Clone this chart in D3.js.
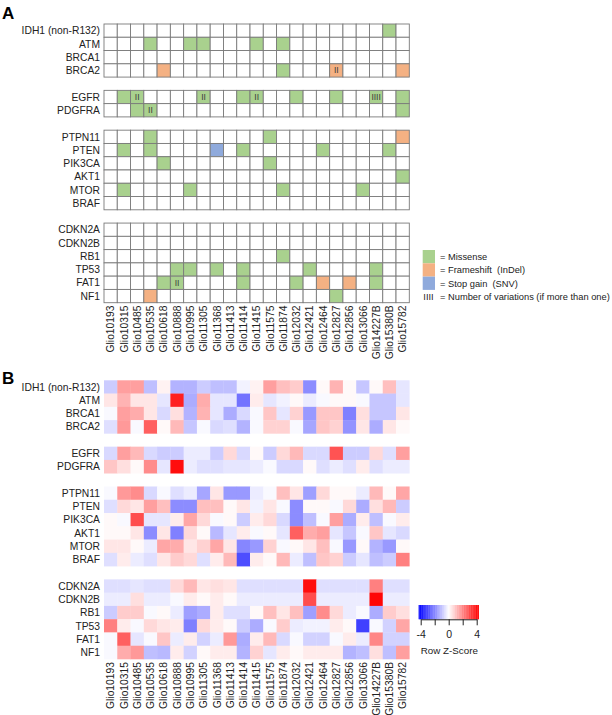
<!DOCTYPE html>
<html><head><meta charset="utf-8">
<script src="https://cdnjs.cloudflare.com/ajax/libs/d3/7.8.5/d3.min.js"></script>
<style>body{margin:0;background:#fff}svg{display:block;font-family:"Liberation Sans",Arial,sans-serif}</style>
</head><body>
<script>
// ---------- data ----------
const samples = ["Glio10193","Glio10315","Glio10485","Glio10535","Glio10618","Glio10888","Glio10995","Glio11305","Glio11368","Glio11413","Glio11414","Glio11415","Glio11575","Glio11874","Glio12032","Glio12421","Glio12464","Glio12827","Glio12856","Glio13066","Glio14227B","Glio15380B","Glio15782"];
const groupDNA = ["IDH1 (non-R132)","ATM","BRCA1","BRCA2"];
const groupRTK = ["EGFR","PDGFRA"];
const groupPI3K = ["PTPN11","PTEN","PIK3CA","AKT1","MTOR","BRAF"];
const groupCC = ["CDKN2A","CDKN2B","RB1","TP53","FAT1","NF1"];
const mutationTypes = ["Missense","Frameshift","Stop gain"];
const legendLabels = ["= Missense","= Frameshift  (InDel)","= Stop gain  (SNV)","= Number of variations (if more than one)"];
// [gene, sample, type, number of variations]
const mutations = [
 ["IDH1 (non-R132)","Glio15380B","Missense",1],
 ["ATM","Glio10535","Missense",1],["ATM","Glio10995","Missense",1],["ATM","Glio11305","Missense",1],["ATM","Glio11415","Missense",1],["ATM","Glio11874","Missense",1],
 ["BRCA2","Glio10618","Frameshift",1],["BRCA2","Glio11874","Missense",1],["BRCA2","Glio12827","Frameshift",2],["BRCA2","Glio15782","Frameshift",1],
 ["EGFR","Glio10315","Missense",1],["EGFR","Glio10485","Missense",2],["EGFR","Glio11305","Missense",2],["EGFR","Glio11414","Missense",1],["EGFR","Glio11415","Missense",2],["EGFR","Glio12032","Missense",1],["EGFR","Glio12827","Missense",1],["EGFR","Glio14227B","Missense",4],["EGFR","Glio15782","Missense",1],
 ["PDGFRA","Glio10485","Missense",1],["PDGFRA","Glio10535","Missense",2],["PDGFRA","Glio15782","Missense",1],
 ["PTPN11","Glio10535","Missense",1],["PTPN11","Glio11575","Missense",1],["PTPN11","Glio15782","Frameshift",1],
 ["PTEN","Glio10315","Missense",1],["PTEN","Glio10535","Missense",1],["PTEN","Glio11368","Stop gain",1],["PTEN","Glio11414","Missense",1],["PTEN","Glio12464","Missense",1],["PTEN","Glio15380B","Missense",1],
 ["PIK3CA","Glio10618","Missense",1],["PIK3CA","Glio11575","Missense",1],
 ["AKT1","Glio15782","Missense",1],
 ["MTOR","Glio10315","Missense",1],["MTOR","Glio10995","Missense",1],["MTOR","Glio11874","Missense",1],["MTOR","Glio13066","Missense",1],
 ["RB1","Glio11874","Missense",1],
 ["TP53","Glio10888","Missense",1],["TP53","Glio10995","Missense",1],["TP53","Glio11368","Missense",1],["TP53","Glio11414","Missense",1],["TP53","Glio12421","Missense",1],["TP53","Glio14227B","Missense",1],
 ["FAT1","Glio10618","Missense",1],["FAT1","Glio10888","Missense",2],["FAT1","Glio11414","Missense",1],["FAT1","Glio12032","Missense",1],["FAT1","Glio12464","Frameshift",1],["FAT1","Glio12856","Frameshift",1],["FAT1","Glio14227B","Missense",1],
 ["NF1","Glio10535","Frameshift",1],["NF1","Glio12827","Missense",1]
];
// Row Z-scores (order = samples)
const zIDH1   = [-0.8,1.5,1.5,-1.0,0.2,-1.2,-1.2,-0.8,-1.0,-1.0,-0.2,0.2,1.5,1.0,0.8,-1.8,0.1,1.2,0.1,-0.9,0.1,1.0,-0.4];
const zATM    = [0.4,1.2,0.4,0.4,-0.4,3.5,-1.3,1.3,-0.4,-0.4,-2.2,0.3,-0.4,-0.2,0.1,-0.3,-0.1,0.1,0.1,-0.1,-0.9,-0.9,-0.4];
const zBRCA1  = [-0.1,1.5,1.3,0.4,-0.6,0.5,-1.2,1.2,-0.4,-1.3,-0.6,-0.1,0.9,-0.4,0.7,-1.6,0.9,0.9,-2.0,0.5,-0.9,-0.9,0.4];
const zBRCA2  = [-0.5,1.6,-0.1,2.5,0.1,1.1,-0.9,-0.1,-0.6,-0.5,-1.2,-0.1,0.7,0.7,-0.1,-1.4,0.9,0.7,-1.7,0.4,-1.3,0.4,0.1];
const zEGFR   = [-0.6,1.5,1.1,-0.6,-0.8,-0.8,-0.3,-0.3,-0.8,0.6,-0.6,0.1,-0.8,0.6,1.1,-0.6,-0.6,2.7,-0.8,-0.8,0.6,-0.5,1.5];
const zPDGFRA = [0.9,0.5,0.1,1.8,-0.4,3.8,-0.3,-0.5,-0.5,-0.4,-0.4,-0.3,-0.1,-0.6,-0.6,0.1,-0.5,-0.3,-0.5,0.3,-0.5,-0.3,-0.3];
const zPTPN11 = [-0.1,1.6,1.8,-0.6,-0.1,-0.5,-0.3,-1.4,0.4,-1.6,-1.6,-0.3,-0.1,1.0,0.4,-1.5,0.6,0.1,0.1,-0.3,1.1,0.1,1.4];
const zPTEN   = [-0.5,0.6,0.4,1.5,1.0,-1.8,-1.8,1.0,1.0,0.1,0.4,-0.2,0.4,-0.1,-1.8,0.1,0.1,-0.1,0.6,-1.3,0.5,1.1,-0.8];
const zPIK3CA = [0.1,-0.1,2.8,-0.4,-0.4,0.3,1.4,0.6,-0.1,0.1,-0.8,0.3,0.6,-0.6,-1.8,-1.0,-0.1,1.5,-1.3,0.3,-1.0,-0.1,0.3];
const zAKT1   = [0.1,0.1,0.4,-1.8,0.4,-2.0,0.6,0.1,-1.1,-0.4,0.3,-0.1,0.1,-0.4,2.5,1.3,1.5,-0.4,-0.9,-0.1,0.9,-0.4,-0.6];
const zMTOR   = [0.4,0.4,0.1,-0.3,1.4,1.3,0.4,0.7,1.4,0.4,-1.9,-1.6,0.7,-0.1,0.1,0.4,1.0,-0.1,-1.6,0.1,-1.2,-1.6,0.1];
const zBRAF   = [-0.5,0.3,-0.3,-0.5,0.4,0.8,0.6,-0.5,0.3,1.1,-2.8,0.3,0.1,1.1,-0.3,-1.0,0.9,0.7,-0.8,-0.4,-1.0,-0.8,2.0];
const zCDKN2A = [-0.5,-0.5,-0.4,-0.5,-0.5,0.6,1.1,0.4,0.5,0.4,-0.5,-0.5,-0.5,-0.5,-0.5,3.8,-0.5,-0.5,-0.5,-0.5,2.0,-0.5,-0.5];
const zCDKN2B = [-0.3,-0.3,0.5,-0.3,-0.3,-0.1,0.3,0.1,0.3,0.1,-0.3,-0.3,-0.3,-0.3,-0.3,2.8,-0.3,-0.3,-0.3,-0.3,3.9,-0.3,-0.3];
const zRB1    = [-0.8,0.8,0.8,-0.1,0.1,-0.3,-1.5,-1.3,0.3,-0.5,-0.5,0.1,1.0,0.4,1.0,-1.5,1.8,0.6,-0.3,-0.1,-1.3,0.8,0.5];
const zTP53   = [2.0,0.3,-0.1,0.6,0.4,0.3,-2.0,0.6,0.3,0.1,-0.8,-1.3,-0.1,0.8,-0.3,-0.2,-0.2,0.3,0.1,-3.0,-0.1,-0.7,1.4];
const zFAT1   = [-0.1,2.5,-0.4,-0.1,0.9,-0.3,0.3,-0.7,-0.3,1.6,-1.3,0.3,1.1,-0.6,-0.1,-0.7,-0.7,-0.1,0.3,-0.3,1.9,-0.7,-0.7];
const zNF1    = [-0.1,1.3,1.6,-1.0,-1.1,0.3,-0.7,0.1,0.3,0.3,-1.2,0.7,-0.4,0.3,0.1,0.3,0.3,0.3,-1.2,-1.0,0.5,-1.0,1.5];
const colorbarTicks = [-4,-2,0,2,4];
const colorbarLabels = ["-4","","0","","4"];

// ---------- build ----------
const W = 612, H = 715;
const svg = d3.select("body").append("svg").attr("width", W).attr("height", H);
const groups = [groupDNA, groupRTK, groupPI3K, groupCC];
const slots = [];
groups.forEach((g, i) => { if (i) slots.push("__gap" + i); g.forEach(n => slots.push(n)); });
const zTable = {"IDH1 (non-R132)":zIDH1, ATM:zATM, BRCA1:zBRCA1, BRCA2:zBRCA2, EGFR:zEGFR, PDGFRA:zPDGFRA,
  PTPN11:zPTPN11, PTEN:zPTEN, PIK3CA:zPIK3CA, AKT1:zAKT1, MTOR:zMTOR, BRAF:zBRAF,
  CDKN2A:zCDKN2A, CDKN2B:zCDKN2B, RB1:zRB1, TP53:zTP53, FAT1:zFAT1, NF1:zNF1};
const genes = slots.filter(s => !s.startsWith("__gap"));

const x = d3.scaleBand().domain(samples).range([104, 409.3]);
const yA = d3.scaleBand().domain(slots).range([24, 302.7]);
const yB = d3.scaleBand().domain(slots).range([380.3, 659]);
const mutColor = d3.scaleOrdinal().domain(mutationTypes).range(["#a9d18e","#f4b183","#8faadc"]);
const heat = d3.scaleLinear().domain([-4,0,4]).range(["#0000ff","#ffffff","#ff0000"]).clamp(true);

const FS = 10.3;
// Panel labels
svg.append("text").attr("x", 2).attr("y", 19).attr("font-size", 17).attr("font-weight", "bold").text("A");
svg.append("text").attr("x", 2).attr("y", 384).attr("font-size", 17).attr("font-weight", "bold").text("B");

// ---------- Panel A ----------
const gA = svg.append("g");
const mutMap = new Map(mutations.map(m => [m[0] + "|" + m[1], m]));
const cells = [];
genes.forEach(g => samples.forEach(s => cells.push({g, s, m: mutMap.get(g + "|" + s)})));
gA.selectAll("rect.cell").data(cells).join("rect").attr("class", "cell")
  .attr("x", d => x(d.s)).attr("y", d => yA(d.g))
  .attr("width", x.bandwidth()).attr("height", yA.bandwidth())
  .attr("fill", d => d.m ? mutColor(d.m[2]) : "#fff")
  .attr("stroke", "#7a7a7a").attr("stroke-width", 0.9);
gA.selectAll("text.cnt").data(cells.filter(d => d.m && d.m[3] > 1)).join("text").attr("class", "cnt")
  .attr("x", d => x(d.s) + x.bandwidth() / 2).attr("y", d => yA(d.g) + yA.bandwidth() / 2 + 3)
  .attr("text-anchor", "middle").attr("font-size", 8.5).attr("fill", "#3a3a3a")
  .text(d => "I".repeat(d.m[3]));
gA.selectAll("text.rl").data(genes).join("text").attr("class", "rl")
  .attr("x", 100).attr("y", d => yA(d) + yA.bandwidth() / 2 + 3.7)
  .attr("text-anchor", "end").attr("font-size", FS).attr("fill", "#222").text(d => d);
gA.selectAll("text.cl").data(samples).join("text").attr("class", "cl")
  .attr("transform", d => `translate(${x(d) + x.bandwidth() / 2 + 3.7},${305.5}) rotate(-90)`)
  .attr("text-anchor", "end").attr("font-size", FS).attr("fill", "#222").text(d => d);

// Legend
const lg = svg.append("g");
const legY = d3.scaleBand().domain(d3.range(4)).range([250, 303.2]);
lg.selectAll("rect").data(mutationTypes).join("rect")
  .attr("x", 422.7).attr("y", (d, i) => legY(i)).attr("width", 12.3).attr("height", legY.bandwidth())
  .attr("fill", d => mutColor(d));
lg.append("text").attr("x", 428.5).attr("y", legY(3) + legY.bandwidth() / 2 + 3.3)
  .attr("text-anchor", "middle").attr("font-size", 9.3).attr("fill", "#222").text("IIII");
lg.selectAll("text.lt").data(legendLabels).join("text").attr("class", "lt")
  .attr("x", 440).attr("y", (d, i) => legY(i) + legY.bandwidth() / 2 + 3.3)
  .attr("font-size", 9.3).attr("fill", "#222").attr("xml:space", "preserve")
  .style("white-space", "pre").text(d => d);

// ---------- Panel B ----------
const gB = svg.append("g");
const hcells = [];
genes.forEach(g => samples.forEach((s, i) => hcells.push({g, s, v: zTable[g][i]})));
gB.selectAll("rect").data(hcells).join("rect")
  .attr("x", d => x(d.s)).attr("y", d => yB(d.g))
  .attr("width", x.bandwidth() + 0.3).attr("height", yB.bandwidth() + 0.3)
  .attr("fill", d => heat(d.v));
gB.selectAll("text.rl").data(genes).join("text").attr("class", "rl")
  .attr("x", 100).attr("y", d => yB(d) + yB.bandwidth() / 2 + 3.7)
  .attr("text-anchor", "end").attr("font-size", FS).attr("fill", "#222").text(d => d);
gB.selectAll("text.cl").data(samples).join("text").attr("class", "cl")
  .attr("transform", d => `translate(${x(d) + x.bandwidth() / 2 + 3.7},${662}) rotate(-90)`)
  .attr("text-anchor", "end").attr("font-size", FS).attr("fill", "#222").text(d => d);

// Colour key
const kx = d3.scaleLinear().domain([-4, 4]).range([420.7, 476.7]);
const kg = svg.append("g");
const steps = d3.range(-4.3, 4.3, 0.1);
kg.selectAll("rect").data(steps).join("rect")
  .attr("x", d => kx(d)).attr("y", 605).attr("width", kx(0.1) - kx(0) + 0.2).attr("height", 14.3)
  .attr("fill", d => heat(d + 0.05));
const kAxis = d3.axisBottom(kx).tickValues(colorbarTicks).tickFormat((d, i) => colorbarLabels[i]).tickSize(6).tickSizeOuter(0);
const ka = kg.append("g").attr("transform", "translate(0,619.3)").call(kAxis);
ka.select(".domain").attr("stroke", "#222");
ka.selectAll(".tick line").attr("stroke", "#222");
ka.selectAll("text").attr("font-size", 10.5).attr("fill", "#222").attr("font-family", "Liberation Sans, Arial, sans-serif").attr("dy", "0.9em");
kg.append("text").attr("x", 449.3).attr("y", 654).attr("text-anchor", "middle").attr("font-size", 9.8).attr("fill", "#222").text("Row Z-Score");
</script>
</body></html>
